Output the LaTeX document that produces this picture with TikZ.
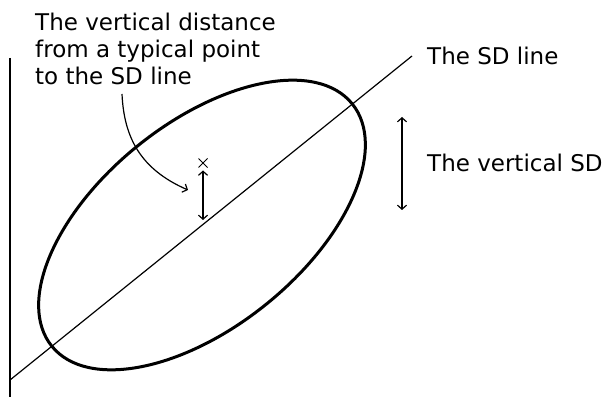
\documentclass[tikz,border=0pt]{standalone}
\usepackage{fontspec}
\setmainfont{DejaVu Sans}
\usetikzlibrary{arrows.meta,shapes.misc}

\begin{document}
\begin{tikzpicture}[x=1pt,y=1pt,>={Straight Barb[length=4pt,width=9pt]},
  lbl/.style={anchor=base west,inner sep=0pt,align=left,font=\fontsize{23}{27}\selectfont},
  thinline/.style={line width=1.2pt},
  oval/.style={line width=3pt}]
\useasboundingbox (0,0) rectangle (614,397);
% axis and SD line
\coordinate (axistop) at (10,339);
\coordinate (axisbot) at (10,0);
\coordinate (sdstart) at (10,17);
\coordinate (sdend) at (412,341);
\coordinate (centre) at (202,172);
\draw[thinline] (axistop) -- (axisbot);
\draw[thinline] (sdstart) -- (sdend);
\draw[oval] (centre) ellipse[x radius=193,y radius=102,rotate=38.86];
% labels (base of a multi-line node is its last line)
\node[lbl] (note) at (35,312) {The vertical distance\\from a typical point\\to the SD line};
\node[lbl] (sdlabel) at (427,332) {The SD line};
\node[lbl] (vsdlabel) at (427,225) {The vertical SD};
% typical point
\node[draw,cross out,minimum size=8pt,inner sep=0pt,line width=1pt] (pt) at (203,234) {};
\coordinate (ptfoot) at (203,177);
\draw[thinline,<->] ([yshift=-3pt]pt.south) -- (ptfoot);
% vertical SD
\coordinate (vsdtop) at (402,280);
\coordinate (vsdbot) at (402,187);
\draw[thinline,<->] (vsdtop) -- (vsdbot);
% pointer
\coordinate (pointer) at (122,303);
\coordinate (pointee) at (188,207);
\draw[thinline,->] (pointer) .. controls (124,260) and (140,228) .. (pointee);
\end{tikzpicture}
\end{document}
